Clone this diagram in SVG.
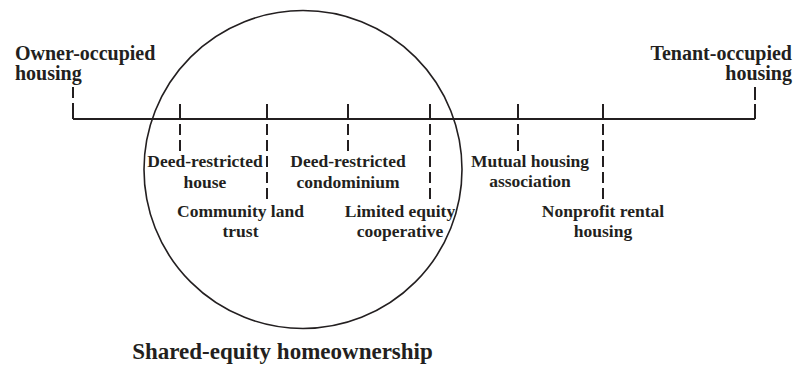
<svg xmlns="http://www.w3.org/2000/svg" width="794" height="366" viewBox="0 0 794 366">
<style>
text{font-family:"Liberation Serif","Times New Roman",serif;font-weight:bold;fill:#231f20}
.lbl{font-size:17.5px;text-anchor:middle}
.hdr{font-size:20px}
.ttl{font-size:23px;text-anchor:middle}
.ln{stroke:#231f20;stroke-width:2;fill:none}
.dash{stroke:#231f20;stroke-width:2;fill:none;stroke-dasharray:11 5}
</style>
<rect width="794" height="366" fill="#fff"/>
<g id="circle">
<circle cx="303" cy="169.5" r="159" fill="none" stroke="#231f20" stroke-width="1.6"/>
<text class="ttl" x="282.5" y="359">Shared-equity homeownership</text>
</g>
<g id="connectors">
<path class="ln" d="M73 119H755"/>
<path class="ln" d="M73 87V98M73 103V119"/>
<path class="ln" d="M755 87V100M755 104V119"/>
<path class="ln" d="M180 104V119"/><path class="dash" d="M180 124V153"/>
<path class="ln" d="M267 104V119"/><path class="dash" d="M267 124V202"/>
<path class="ln" d="M348 104V119"/><path class="dash" d="M348 124V153"/>
<path class="ln" d="M430 104V119"/><path class="dash" d="M430 124V201"/>
<path class="ln" d="M518 104V119"/><path class="dash" d="M518 124V153"/>
<path class="ln" d="M603 104V119"/><path class="dash" d="M603 124V201"/>
</g>
<g id="owner"><text class="hdr" x="15" y="60">Owner-occupied</text><text class="hdr" x="15" y="80">housing</text></g>
<g id="tenant"><text class="hdr" x="792" y="60" text-anchor="end">Tenant-occupied</text><text class="hdr" x="792" y="80" text-anchor="end">housing</text></g>
<g id="deed-house"><text class="lbl" x="205" y="167">Deed-restricted</text><text class="lbl" x="205" y="188">house</text></g>
<g id="clt"><text class="lbl" x="240.5" y="217">Community land</text><text class="lbl" x="240.5" y="237">trust</text></g>
<g id="deed-condo"><text class="lbl" x="348" y="167">Deed-restricted</text><text class="lbl" x="348" y="188">condominium</text></g>
<g id="lec"><text class="lbl" x="400" y="217">Limited equity</text><text class="lbl" x="400" y="237">cooperative</text></g>
<g id="mha"><text class="lbl" x="530" y="167">Mutual housing</text><text class="lbl" x="530" y="187">association</text></g>
<g id="nrh"><text class="lbl" x="603" y="217">Nonprofit rental</text><text class="lbl" x="603" y="237">housing</text></g>
</svg>
